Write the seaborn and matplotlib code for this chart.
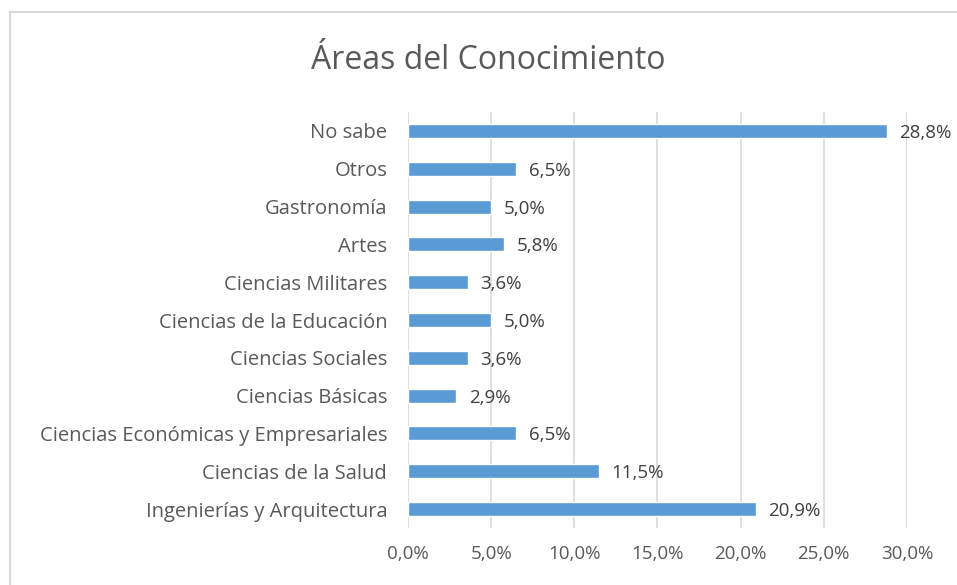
import matplotlib
matplotlib.use("Agg")
import matplotlib.pyplot as plt
import seaborn as sns
import pandas as pd
from matplotlib.patches import Rectangle

categories = [
    "No sabe",
    "Otros",
    "Gastronomía",
    "Artes",
    "Ciencias Militares",
    "Ciencias de la Educación",
    "Ciencias Sociales",
    "Ciencias Básicas",
    "Ciencias Económicas y Empresariales",
    "Ciencias de la Salud",
    "Ingenierías y Arquitectura",
]
values = [28.8, 6.5, 5.0, 5.8, 3.6, 5.0, 3.6, 2.9, 6.5, 11.5, 20.9]
xticks = [0, 5, 10, 15, 20, 25, 30]

df = pd.DataFrame({"area": categories, "pct": values})

sns.set_theme(style="white")
plt.rcParams["font.family"] = ["Open Sans", "DejaVu Sans"]

text_color = "#595959"
bar_color = "#5B9BD5"
grid_color = "#D9D9D9"

fig = plt.figure(figsize=(9.57, 5.85), dpi=100)
ax = fig.add_axes([0.4263, 0.0974, 0.5214, 0.711])

sns.barplot(data=df, x="pct", y="area", orient="h", color=bar_color,
            width=0.37, saturation=1, ax=ax, zorder=3)

ax.set_xlim(0, 30)
ax.set_ylim(len(categories) - 0.5, -0.5)
ax.set_xticks(xticks)
ax.set_xticklabels([f"{t:.1f}%".replace(".", ",") for t in xticks],
                   fontsize=13.5, color=text_color)
ax.tick_params(axis="x", length=0, pad=12)
ax.tick_params(axis="y", length=0, pad=15, labelsize=14.5, labelcolor=text_color)
ax.set_xlabel("")
ax.set_ylabel("")
for s in ax.spines.values():
    s.set_visible(False)
ax.grid(axis="x", color=grid_color, linewidth=1.2, zorder=0)
ax.grid(axis="y", visible=False)

for i, v in enumerate(values):
    ax.text(v + 0.75, i + 0.05, f"{v:.1f}%".replace(".", ","), va="center", ha="left",
            fontsize=13.5, color="#404040", clip_on=False)

fig.text(0.51, 0.896, "Áreas del Conocimiento", ha="center", va="center",
         fontsize=23, color=text_color)

# chart border (cropped on right and bottom)
fig.patches.append(Rectangle((10 / 957, -0.1), 1.2, 1.1 - 12 / 585,
                             transform=fig.transFigure, fill=False,
                             edgecolor="#D9D9D9", linewidth=1.5))

fig.savefig("out.png", dpi=100, facecolor="white")
